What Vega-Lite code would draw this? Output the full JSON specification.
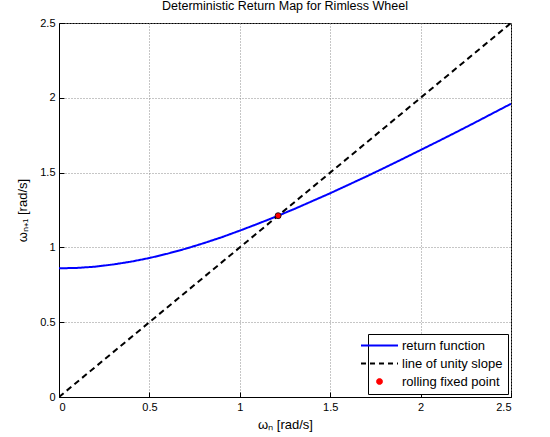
{
  "$schema": "https://vega.github.io/schema/vega-lite/v6.json",
  "width": 452,
  "height": 374,
  "autosize": {"type": "none"},
  "padding": {"left": 59, "top": 23, "right": 39, "bottom": 40},
  "background": "white",
  "title": {"text": "Deterministic Return Map for Rimless Wheel", "font": "Liberation Sans", "fontSize": 12.5, "fontWeight": "normal", "color": "black", "anchor": "middle", "offset": 5},
  "config": {
    "view": {"stroke": "black", "strokeWidth": 1},
    "axis": {
      "grid": true, "gridColor": "#8c8c8c", "gridDash": [1, 2], "gridWidth": 1,
      "domainColor": "black", "tickColor": "black", "tickSize": -5, "labelPadding": 9,
      "labelFont": "Liberation Sans", "labelFontSize": 11, "labelColor": "black",
      "titleFont": "Liberation Sans", "titleFontSize": 13, "titleFontWeight": "normal", "titleColor": "black"
    }
  },
  "layer": [
    {
      "data": {"values": [
        {"w": 0.0, "next": 0.860, "series": "return function"},
        {"w": 0.1, "next": 0.863, "series": "return function"},
        {"w": 0.2, "next": 0.871, "series": "return function"},
        {"w": 0.3, "next": 0.886, "series": "return function"},
        {"w": 0.4, "next": 0.905, "series": "return function"},
        {"w": 0.5, "next": 0.929, "series": "return function"},
        {"w": 0.6, "next": 0.958, "series": "return function"},
        {"w": 0.7, "next": 0.991, "series": "return function"},
        {"w": 0.8, "next": 1.028, "series": "return function"},
        {"w": 0.9, "next": 1.068, "series": "return function"},
        {"w": 1.0, "next": 1.112, "series": "return function"},
        {"w": 1.1, "next": 1.158, "series": "return function"},
        {"w": 1.2, "next": 1.206, "series": "return function"},
        {"w": 1.3, "next": 1.256, "series": "return function"},
        {"w": 1.4, "next": 1.309, "series": "return function"},
        {"w": 1.5, "next": 1.362, "series": "return function"},
        {"w": 1.6, "next": 1.418, "series": "return function"},
        {"w": 1.7, "next": 1.474, "series": "return function"},
        {"w": 1.8, "next": 1.532, "series": "return function"},
        {"w": 1.9, "next": 1.591, "series": "return function"},
        {"w": 2.0, "next": 1.651, "series": "return function"},
        {"w": 2.1, "next": 1.711, "series": "return function"},
        {"w": 2.2, "next": 1.772, "series": "return function"},
        {"w": 2.3, "next": 1.834, "series": "return function"},
        {"w": 2.4, "next": 1.897, "series": "return function"},
        {"w": 2.5, "next": 1.960, "series": "return function"},
        {"w": 0.0, "next": 0.0, "series": "line of unity slope"},
        {"w": 2.5, "next": 2.5, "series": "line of unity slope"}
      ]},
      "mark": {"type": "line", "strokeWidth": 2, "clip": true},
      "encoding": {
        "x": {"field": "w", "type": "quantitative",
              "scale": {"domain": [0, 2.5], "nice": false, "zero": false},
              "axis": {"title": "ωₙ [rad/s]", "values": [0, 0.5, 1, 1.5, 2, 2.5], "format": "~g", "titlePadding": 6}},
        "y": {"field": "next", "type": "quantitative",
              "scale": {"domain": [0, 2.5], "nice": false, "zero": false},
              "axis": {"title": "ωₙ₊₁ [rad/s]", "values": [0, 0.5, 1, 1.5, 2, 2.5], "format": "~g", "titlePadding": 10}},
        "color": {"field": "series", "type": "nominal",
                  "scale": {"domain": ["return function", "line of unity slope", "rolling fixed point"], "range": ["#0000ff", "#000000", "#ff0000"]},
                  "legend": {
                    "title": null, "orient": "bottom-right", "offset": 3,
                    "strokeColor": "black", "fillColor": "white", "padding": 5, "cornerRadius": 0,
                    "labelFont": "Liberation Sans", "labelFontSize": 13, "labelColor": "black",
                    "symbolSize": 1369, "rowPadding": 4, "labelOffset": 16,
                    "encode": {"symbols": {"update": {
                      "shape": {"signal": "datum.value === 'rolling fixed point' ? 'circle' : 'stroke'"},
                      "size": {"signal": "datum.value === 'rolling fixed point' ? 36 : 1369"},
                      "strokeDash": {"signal": "datum.value === 'line of unity slope' ? [5, 4] : [1, 0]"},
                      "fill": {"signal": "datum.value === 'rolling fixed point' ? '#ff0000' : 'transparent'"},
                      "stroke": {"signal": "datum.value === 'return function' ? '#0000ff' : '#000000'"},
                      "strokeWidth": {"signal": "datum.value === 'rolling fixed point' ? 0.8 : 2"},
                      "opacity": {"value": 1}
                    }}}
                  }},
        "strokeDash": {"field": "series", "type": "nominal",
                       "scale": {"domain": ["return function", "line of unity slope"], "range": [[1, 0], [6, 4]]},
                       "legend": null}
      }
    },
    {
      "data": {"values": [{"w": 1.212, "next": 1.212, "series": "rolling fixed point"}]},
      "mark": {"type": "point", "filled": true, "fill": "#ff0000", "stroke": "#000000", "strokeWidth": 0.8, "size": 36, "opacity": 1},
      "encoding": {
        "x": {"field": "w", "type": "quantitative"},
        "y": {"field": "next", "type": "quantitative"}
      }
    }
  ]
}
